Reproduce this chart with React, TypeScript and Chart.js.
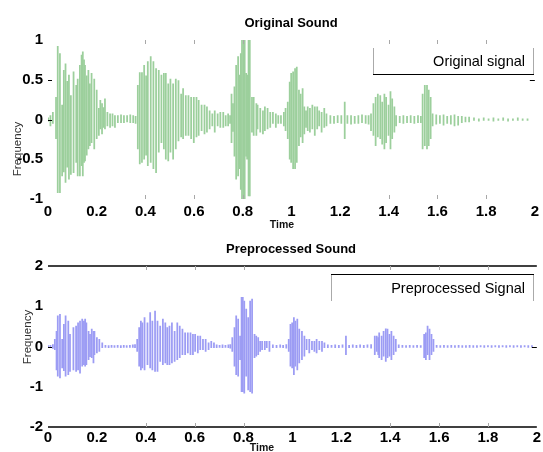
import React, { useEffect, useRef } from 'react';
import { Chart, registerables } from 'chart.js';

Chart.register(...registerables);

// ---------- Original sound (time in s, envelope high / low of each stroke) ----------
const origTime = [
  0.001, 0.01, 0.02, 0.033, 0.04, 0.049, 0.058, 0.065, 0.072, 0.079,
  0.086, 0.094, 0.105, 0.116, 0.122, 0.131, 0.138, 0.143, 0.148, 0.152,
  0.159, 0.166, 0.172, 0.179, 0.19, 0.2, 0.209, 0.215, 0.222, 0.228,
  0.234, 0.244, 0.255, 0.265, 0.275, 0.287, 0.3, 0.312, 0.325, 0.338,
  0.35, 0.36, 0.369, 0.377, 0.386, 0.395, 0.403, 0.41, 0.422, 0.433,
  0.444, 0.455, 0.466, 0.476, 0.484, 0.494, 0.503, 0.514, 0.525, 0.536,
  0.547, 0.555, 0.566, 0.577, 0.588, 0.599, 0.61, 0.619, 0.631, 0.643,
  0.653, 0.664, 0.675, 0.685, 0.697, 0.708, 0.72, 0.73, 0.74, 0.748,
  0.754, 0.76, 0.766, 0.773, 0.781, 0.786, 0.792, 0.797, 0.803, 0.808,
  0.814, 0.818, 0.824, 0.829, 0.838, 0.845, 0.856, 0.861, 0.872, 0.883,
  0.891, 0.902, 0.913, 0.924, 0.936, 0.946, 0.957, 0.969, 0.976, 0.985,
  0.993, 0.999, 1.007, 1.015, 1.022, 1.031, 1.038, 1.046, 1.053, 1.06,
  1.067, 1.076, 1.086, 1.096, 1.106, 1.114, 1.124, 1.135, 1.144, 1.16,
  1.175, 1.19, 1.205, 1.219, 1.23, 1.245, 1.26, 1.275, 1.29, 1.305,
  1.317, 1.327, 1.337, 1.346, 1.355, 1.365, 1.373, 1.382, 1.389, 1.399,
  1.407, 1.414, 1.423, 1.43, 1.445, 1.46, 1.475, 1.49, 1.505, 1.52,
  1.532, 1.539, 1.548, 1.557, 1.564, 1.572, 1.58, 1.595, 1.61, 1.625,
  1.64, 1.655, 1.67, 1.685, 1.7, 1.715, 1.73, 1.75, 1.77, 1.79,
  1.81, 1.83, 1.85, 1.87, 1.89, 1.91, 1.93, 1.95, 1.97,
];
const origHigh = [
  0.02, 0.05, 0.09, 0.28, 0.92, 0.83, 0.18, 0.62, 0.70, 0.48,
  0.56, 0.30, 0.60, 0.43, 0.51, 0.68, 0.81, 0.85, 0.75, 0.68,
  0.55, 0.62, 0.45, 0.58, 0.51, 0.37, 0.14, 0.24, 0.20, 0.15,
  0.26, 0.09, 0.07, 0.07, 0.05, 0.05, 0.06, 0.05, 0.05, 0.06,
  0.05, 0.04, 0.43, 0.59, 0.59, 0.68, 0.55, 0.73, 0.79, 0.73,
  0.64, 0.62, 0.56, 0.58, 0.58, 0.45, 0.51, 0.45, 0.51, 0.49,
  0.32, 0.39, 0.30, 0.30, 0.28, 0.28, 0.28, 0.24, 0.18, 0.18,
  0.16, 0.11, 0.07, 0.11, 0.07, 0.09, 0.09, 0.05, 0.07, 0.05,
  0.32, 0.20, 0.41, 0.68, 0.79, 0.56, 0.83, 1.05, 1.05, 1.05,
  0.58, 0.56, 1.05, 1.05, 0.28, 0.28, 0.20, 0.18, 0.14, 0.11,
  0.16, 0.14, 0.09, 0.09, 0.07, 0.05, 0.05, 0.09, 0.14, 0.22,
  0.47, 0.58, 0.60, 0.64, 0.66, 0.37, 0.32, 0.39, 0.16, 0.11,
  0.16, 0.14, 0.18, 0.16, 0.16, 0.11, 0.09, 0.14, 0.07, 0.05,
  0.04, 0.05, 0.05, 0.22, 0.05, 0.05, 0.04, 0.05, 0.06, 0.05,
  0.05, 0.07, 0.20, 0.28, 0.32, 0.30, 0.22, 0.32, 0.28, 0.18,
  0.35, 0.26, 0.16, 0.05, 0.04, 0.05, 0.04, 0.05, 0.04, 0.05,
  0.04, 0.32, 0.43, 0.43, 0.37, 0.28, 0.07, 0.06, 0.05, 0.06,
  0.04, 0.05, 0.06, 0.04, 0.04, 0.03, 0.03, 0.02, 0.01, 0.02,
  0.01, 0.02, 0.01, 0.02, 0.01, 0.01, 0.02, 0.01, 0.01,
];
const origLow = [
  -0.02, -0.08, -0.05, -0.24, -0.92, -0.92, -0.71, -0.66, -0.79, -0.60,
  -0.75, -0.69, -0.67, -0.54, -0.71, -0.71, -0.58, -0.71, -0.54, -0.52,
  -0.45, -0.37, -0.33, -0.29, -0.37, -0.24, -0.20, -0.12, -0.18, -0.10,
  -0.12, -0.08, -0.10, -0.08, -0.10, -0.04, -0.04, -0.04, -0.03, -0.04,
  -0.04, -0.05, -0.37, -0.56, -0.54, -0.50, -0.45, -0.58, -0.54, -0.62,
  -0.67, -0.41, -0.29, -0.37, -0.50, -0.52, -0.41, -0.50, -0.37, -0.27,
  -0.22, -0.24, -0.20, -0.20, -0.24, -0.29, -0.22, -0.20, -0.14, -0.18,
  -0.16, -0.12, -0.08, -0.16, -0.08, -0.10, -0.10, -0.08, -0.08, -0.05,
  -0.29, -0.15, -0.46, -0.75, -0.71, -0.62, -0.88, -1.05, -1.05, -1.05,
  -0.46, -0.50, -0.96, -0.96, -0.16, -0.20, -0.20, -0.12, -0.16, -0.18,
  -0.14, -0.12, -0.10, -0.05, -0.10, -0.05, -0.05, -0.08, -0.14, -0.24,
  -0.50, -0.54, -0.62, -0.62, -0.54, -0.33, -0.22, -0.29, -0.18, -0.10,
  -0.14, -0.16, -0.12, -0.20, -0.12, -0.08, -0.16, -0.10, -0.08, -0.05,
  -0.05, -0.04, -0.05, -0.24, -0.05, -0.06, -0.05, -0.05, -0.04, -0.05,
  -0.06, -0.14, -0.20, -0.33, -0.22, -0.24, -0.31, -0.37, -0.29, -0.20,
  -0.37, -0.24, -0.16, -0.08, -0.04, -0.05, -0.04, -0.04, -0.05, -0.04,
  -0.04, -0.37, -0.33, -0.37, -0.33, -0.24, -0.08, -0.06, -0.05, -0.07,
  -0.05, -0.06, -0.08, -0.07, -0.04, -0.03, -0.03, -0.01, -0.02, -0.01,
  -0.01, -0.02, -0.01, -0.01, -0.02, -0.01, -0.01, -0.01, -0.01,
];

// ---------- Preprocessed sound ----------
const procTime = [
  0.001, 0.01, 0.02, 0.028, 0.035, 0.04, 0.049, 0.058, 0.065, 0.072,
  0.083, 0.09, 0.104, 0.115, 0.123, 0.131, 0.14, 0.147, 0.152, 0.157,
  0.166, 0.172, 0.179, 0.186, 0.19, 0.2, 0.21, 0.222, 0.235, 0.248,
  0.26, 0.272, 0.285, 0.298, 0.31, 0.322, 0.335, 0.347, 0.356, 0.365,
  0.373, 0.38, 0.386, 0.395, 0.407, 0.418, 0.427, 0.438, 0.448, 0.459,
  0.47, 0.48, 0.488, 0.497, 0.507, 0.518, 0.529, 0.539, 0.55, 0.561,
  0.572, 0.583, 0.593, 0.602, 0.613, 0.623, 0.634, 0.645, 0.657, 0.668,
  0.679, 0.69, 0.702, 0.714, 0.726, 0.738, 0.746, 0.754, 0.763, 0.77,
  0.778, 0.786, 0.792, 0.797, 0.803, 0.811, 0.819, 0.827, 0.835, 0.845,
  0.852, 0.86, 0.868, 0.876, 0.887, 0.895, 0.906, 0.92, 0.935, 0.95,
  0.962, 0.975, 0.985, 0.992, 0.999, 1.006, 1.012, 1.02, 1.028, 1.039,
  1.049, 1.058, 1.069, 1.08, 1.09, 1.099, 1.11, 1.121, 1.131, 1.145,
  1.16, 1.175, 1.19, 1.205, 1.219, 1.232, 1.247, 1.262, 1.277, 1.292,
  1.307, 1.322, 1.337, 1.345, 1.351, 1.355, 1.365, 1.373, 1.382, 1.389,
  1.397, 1.405, 1.414, 1.423, 1.435, 1.45, 1.465, 1.48, 1.495, 1.51,
  1.525, 1.539, 1.546, 1.553, 1.561, 1.569, 1.577, 1.59, 1.605, 1.62,
  1.635, 1.65, 1.665, 1.68, 1.695, 1.71, 1.725, 1.74, 1.755, 1.77,
  1.785, 1.8, 1.815, 1.83, 1.845, 1.86, 1.875, 1.89, 1.905, 1.92,
  1.935, 1.95, 1.965, 1.98,
];
const procHigh = [
  0.02, 0.03, 0.05, 0.18, 0.38, 0.76, 0.80, 0.18, 0.55, 0.76,
  0.63, 0.30, 0.47, 0.51, 0.59, 0.63, 0.68, 0.63, 0.68, 0.59,
  0.38, 0.30, 0.43, 0.38, 0.38, 0.22, 0.18, 0.09, 0.03, 0.02,
  0.03, 0.02, 0.03, 0.02, 0.03, 0.02, 0.03, 0.04, 0.05, 0.18,
  0.47, 0.63, 0.59, 0.72, 0.59, 0.84, 0.63, 0.88, 0.63, 0.51,
  0.68, 0.59, 0.47, 0.51, 0.59, 0.38, 0.59, 0.51, 0.43, 0.34,
  0.34, 0.34, 0.30, 0.30, 0.26, 0.26, 0.18, 0.18, 0.09, 0.13,
  0.09, 0.04, 0.03, 0.04, 0.03, 0.04, 0.05, 0.22, 0.47, 0.76,
  0.68, 0.26, 1.22, 1.22, 1.13, 0.93, 0.72, 1.13, 1.18, 0.30,
  0.26, 0.22, 0.13, 0.13, 0.13, 0.13, 0.13, 0.04, 0.03, 0.04,
  0.03, 0.05, 0.18, 0.55, 0.59, 0.72, 0.63, 0.68, 0.43, 0.38,
  0.26, 0.18, 0.18, 0.13, 0.13, 0.18, 0.13, 0.13, 0.09, 0.04,
  0.03, 0.04, 0.03, 0.04, 0.26, 0.03, 0.04, 0.03, 0.04, 0.03,
  0.04, 0.05, 0.26, 0.26, 0.22, 0.34, 0.26, 0.38, 0.44, 0.43,
  0.30, 0.38, 0.26, 0.18, 0.04, 0.03, 0.02, 0.03, 0.02, 0.03,
  0.02, 0.30, 0.34, 0.51, 0.43, 0.30, 0.18, 0.03, 0.02, 0.03,
  0.02, 0.03, 0.02, 0.03, 0.02, 0.02, 0.03, 0.02, 0.02, 0.02,
  0.02, 0.02, 0.02, 0.02, 0.02, 0.02, 0.02, 0.02, 0.02, 0.02,
  0.02, 0.02, 0.02, 0.02,
];
const procLow = [
  -0.02, -0.03, -0.05, -0.08, -0.58, -0.74, -0.78, -0.53, -0.60, -0.74,
  -0.70, -0.62, -0.58, -0.62, -0.58, -0.66, -0.49, -0.45, -0.49, -0.45,
  -0.33, -0.25, -0.28, -0.41, -0.20, -0.16, -0.12, -0.03, -0.02, -0.03,
  -0.02, -0.02, -0.02, -0.03, -0.02, -0.02, -0.02, -0.02, -0.03, -0.12,
  -0.49, -0.58, -0.53, -0.58, -0.45, -0.53, -0.58, -0.62, -0.62, -0.37,
  -0.45, -0.41, -0.45, -0.45, -0.41, -0.37, -0.33, -0.28, -0.20, -0.20,
  -0.16, -0.20, -0.20, -0.12, -0.16, -0.08, -0.08, -0.12, -0.08, -0.03,
  -0.03, -0.03, -0.02, -0.03, -0.02, -0.03, -0.04, -0.12, -0.49, -0.70,
  -0.74, -0.33, -1.12, -1.12, -1.16, -0.74, -1.08, -1.12, -1.16, -0.28,
  -0.24, -0.20, -0.12, -0.08, -0.08, -0.03, -0.12, -0.03, -0.03, -0.02,
  -0.03, -0.04, -0.12, -0.49, -0.53, -0.70, -0.49, -0.58, -0.41, -0.33,
  -0.24, -0.08, -0.16, -0.08, -0.12, -0.16, -0.08, -0.12, -0.03, -0.03,
  -0.02, -0.03, -0.03, -0.02, -0.20, -0.03, -0.02, -0.03, -0.02, -0.03,
  -0.02, -0.04, -0.20, -0.12, -0.20, -0.28, -0.33, -0.24, -0.37, -0.28,
  -0.24, -0.33, -0.20, -0.12, -0.03, -0.02, -0.02, -0.02, -0.02, -0.02,
  -0.02, -0.28, -0.33, -0.20, -0.33, -0.20, -0.12, -0.02, -0.02, -0.02,
  -0.02, -0.02, -0.02, -0.02, -0.02, -0.02, -0.02, -0.02, -0.02, -0.01,
  -0.02, -0.01, -0.02, -0.01, -0.02, -0.01, -0.02, -0.01, -0.02, -0.01,
  -0.02, -0.01, -0.02, -0.01,
];

// ---------- Axis ticks & labels ----------
const timeRange = [0, 2];
const timeStep = 0.2;
const origRange = [-1, 1];
const origStep = 0.5;
const procRange = [-2, 2];
const procStep = 1;
const innerTimeTicks = [0.4, 0.6, 0.8, 1.4, 1.6, 1.8];

const FONT = 'Arial, "Liberation Sans", Helvetica, sans-serif';

type PlotCfg = {
  time: number[];
  high: number[];
  low: number[];
  color: string;
  yRange: number[];
  yStep: number;
  title: string;
  legend: string;
  canvasH: number;
  padTop: number;
  xAxisH: number;
  xPad: number;
  titleY: number;
  timeX: number;
  timeY: number;
  freqX: number;
  freqY: number;
  legendBox: number[]; // left, top, right, bottom
  legendEdge: 'top' | 'bottom';
  leftTicks: number[];
  rightTicks: number[];
  frame: boolean;
};

function makeDecor(c: PlotCfg) {
  return {
    id: 'decor',
    afterDraw(chart: any) {
      const { ctx, chartArea: a, scales } = chart;
      const xs = scales.x;
      const ys = scales.y;
      const line = (x1: number, y1: number, x2: number, y2: number) => {
        ctx.beginPath();
        ctx.moveTo(x1, y1);
        ctx.lineTo(x2, y2);
        ctx.stroke();
      };
      ctx.save();
      if (c.frame) {
        ctx.strokeStyle = '#000';
        ctx.lineWidth = 1.4;
        line(a.left, a.top, a.right, a.top);
        line(a.left, a.bottom, a.right, a.bottom);
      }
      ctx.strokeStyle = '#a8a8a8';
      ctx.lineWidth = 1;
      for (const v of innerTimeTicks) {
        const px = Math.round(xs.getPixelForValue(v)) + 0.5;
        line(px, a.top, px, a.top + 4);
        line(px, a.bottom - 4, px, a.bottom);
      }
      ctx.strokeStyle = '#000';
      for (const v of c.leftTicks) {
        const py = Math.round(ys.getPixelForValue(v)) + 0.5;
        line(a.left, py, a.left + 4, py);
      }
      for (const v of c.rightTicks) {
        const py = Math.round(ys.getPixelForValue(v)) + 0.5;
        line(a.right - 5, py, a.right, py);
      }
      const [l, t, r, b] = c.legendBox;
      ctx.fillStyle = '#fff';
      ctx.fillRect(l, t, r - l, b - t);
      ctx.strokeStyle = '#aaa';
      line(l + 0.5, t, l + 0.5, b);
      line(r + 0.5, t, r + 0.5, b);
      ctx.strokeStyle = '#000';
      ctx.lineWidth = 1.2;
      if (c.legendEdge === 'top') line(l, t + 0.5, r + 1, t + 0.5);
      else line(l, b + 0.5, r + 1, b + 0.5);
      ctx.fillStyle = '#000';
      ctx.font = `14.5px ${FONT}`;
      ctx.textAlign = 'right';
      ctx.textBaseline = 'middle';
      ctx.fillText(c.legend, r - 8, (t + b) / 2 + 1);
      ctx.textAlign = 'center';
      ctx.font = `bold 13px ${FONT}`;
      ctx.fillText(c.title, 291, c.titleY);
      ctx.font = `bold 10.5px ${FONT}`;
      ctx.fillStyle = '#111';
      ctx.fillText('Time', c.timeX, c.timeY);
      ctx.save();
      ctx.translate(c.freqX, c.freqY);
      ctx.rotate(-Math.PI / 2);
      ctx.font = `11.5px ${FONT}`;
      ctx.fillStyle = '#333';
      ctx.fillText('Frequency', 0, 0);
      ctx.restore();
      ctx.restore();
    },
  };
}

function fmt(v: number) {
  return String(Number(v.toFixed(1)));
}

function Plot({ c }: { c: PlotCfg }) {
  const ref = useRef<HTMLCanvasElement>(null);
  useEffect(() => {
    if (!ref.current) return;
    const data = c.time.map((t, i) => ({ x: t, y: [c.low[i], c.high[i]] }));
    const chart = new Chart(ref.current, {
      type: 'bar',
      data: {
        datasets: [
          {
            data: data as any,
            backgroundColor: c.color,
            borderWidth: 0,
            barThickness: 1.1,
          },
        ],
      },
      options: {
        animation: false,
        responsive: false,
        maintainAspectRatio: false,
        events: [],
        layout: { padding: { top: c.padTop, right: 5, bottom: 0, left: 0 } },
        plugins: { legend: { display: false }, tooltip: { enabled: false }, title: { display: false } },
        scales: {
          x: {
            type: 'linear',
            min: timeRange[0],
            max: timeRange[1],
            offset: false,
            border: { display: false },
            grid: { display: false, drawTicks: false },
            ticks: {
              stepSize: timeStep,
              autoSkip: false,
              maxRotation: 0,
              padding: c.xPad,
              color: '#000',
              font: { family: FONT, size: 15, weight: 'bold' },
              callback: (v: any) => fmt(Number(v)),
            },
            afterFit: (s: any) => {
              s.height = c.xAxisH;
            },
          },
          y: {
            type: 'linear',
            min: c.yRange[0],
            max: c.yRange[1],
            border: { display: false },
            grid: { display: false, drawTicks: false },
            ticks: {
              stepSize: c.yStep,
              padding: 5,
              color: '#000',
              font: { family: FONT, size: 15, weight: 'bold' },
              callback: (v: any) => fmt(Number(v)),
            },
            afterFit: (s: any) => {
              s.width = 48;
            },
          },
        },
      } as any,
      plugins: [makeDecor(c)],
    });
    return () => chart.destroy();
  }, [c]);
  return <canvas ref={ref} width={543} height={c.canvasH} style={{ display: 'block' }} />;
}

const topCfg: PlotCfg = {
  time: origTime,
  high: origHigh,
  low: origLow,
  color: '#9ccf9c',
  yRange: origRange,
  yStep: origStep,
  title: 'Original Sound',
  legend: 'Original signal',
  canvasH: 230,
  padTop: 40,
  xAxisH: 31,
  xPad: 4,
  titleY: 23,
  timeX: 282,
  timeY: 225,
  freqX: 18,
  freqY: 149,
  legendBox: [373, 48, 533, 74],
  legendEdge: 'bottom',
  leftTicks: [0.5, 0],
  rightTicks: [0.5],
  frame: false,
};

const bottomCfg: PlotCfg = {
  time: procTime,
  high: procHigh,
  low: procLow,
  color: '#9c9cf4',
  yRange: procRange,
  yStep: procStep,
  title: 'Preprocessed Sound',
  legend: 'Preprocessed Signal',
  canvasH: 222,
  padTop: 36,
  xAxisH: 25,
  xPad: 2,
  titleY: 19,
  timeX: 262,
  timeY: 218,
  freqX: 28,
  freqY: 107,
  legendBox: [331, 44, 533, 71],
  legendEdge: 'top',
  leftTicks: [0],
  rightTicks: [0],
  frame: true,
};

export default function App() {
  return (
    <div style={{ position: 'absolute', left: 0, top: 0, width: 543, height: 452, background: '#fff' }}>
      <Plot c={topCfg} />
      <Plot c={bottomCfg} />
    </div>
  );
}
